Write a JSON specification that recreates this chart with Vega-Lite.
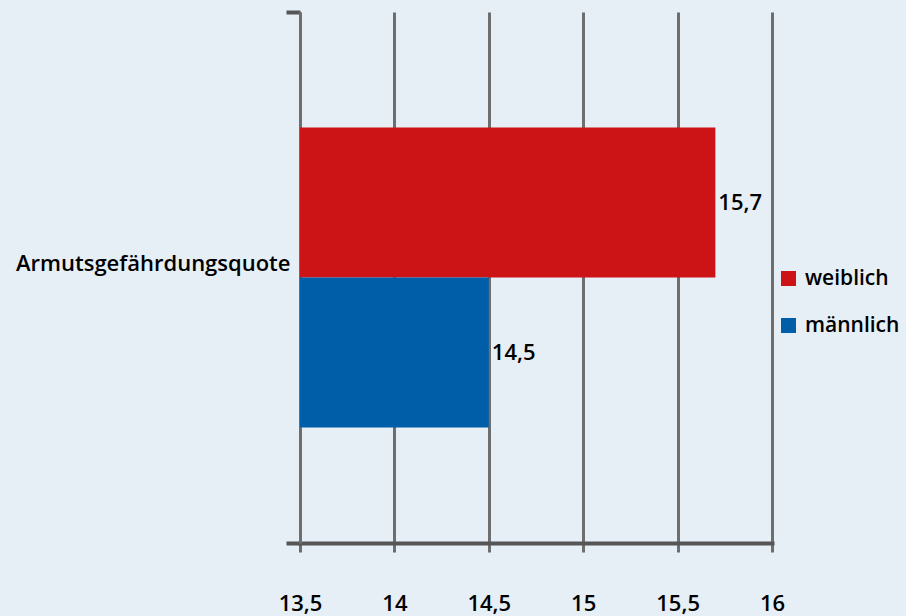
{
  "$schema": "https://vega.github.io/schema/vega-lite/v6.json",
  "width": 472,
  "height": 531,
  "autosize": {"type": "none"},
  "padding": {"left": 300, "top": 12, "right": 134, "bottom": 73},
  "background": "#e6eef6",
  "config": {
    "view": {"stroke": null},
    "font": "Open Sans"
  },
  "data": {
    "values": [
      {"kategorie": "Armutsgefährdungsquote", "geschlecht": "weiblich", "wert": 15.7},
      {"kategorie": "Armutsgefährdungsquote", "geschlecht": "männlich", "wert": 14.5}
    ]
  },
  "encoding": {
    "y": {
      "field": "kategorie",
      "type": "nominal",
      "title": null,
      "scale": {"paddingInner": 0, "paddingOuter": 0},
      "axis": {
        "tickBand": "extent",
        "ticks": true,
        "tickSize": 14,
        "tickColor": "#555555",
        "tickWidth": 4,
        "domainColor": "#6e6e6e",
        "domainWidth": 3,
        "labelFont": "Open Sans",
        "labelFontSize": 22,
        "labelFontWeight": 600,
        "labelColor": "#000000",
        "labelPadding": -4,
        "labelOffset": -14,
        "labelLimit": 400
      }
    },
    "yOffset": {
      "field": "geschlecht",
      "type": "nominal",
      "scale": {"domain": ["weiblich", "männlich"], "paddingInner": 0, "paddingOuter": 0.77}
    },
    "x": {
      "field": "wert",
      "type": "quantitative",
      "title": null,
      "scale": {"domain": [13.5, 16], "nice": false, "zero": false, "clamp": true},
      "axis": {
        "values": [13.5, 14, 14.5, 15, 15.5, 16],
        "labelExpr": "replace(format(datum.value, '.1~f'), '.', ',')",
        "grid": true,
        "gridColor": "#6e6e6e",
        "gridWidth": 3,
        "gridOpacity": 1,
        "domainColor": "#555555",
        "domainWidth": 4,
        "domainCap": "square",
        "tickColor": "#6e6e6e",
        "tickWidth": 3,
        "tickSize": 9,
        "labelFont": "Open Sans",
        "labelFontSize": 22,
        "labelFontWeight": 600,
        "labelColor": "#000000",
        "labelPadding": 41,
        "labelFlush": false
      }
    }
  },
  "layer": [
    {
      "mark": {"type": "bar"},
      "encoding": {
        "color": {
          "field": "geschlecht",
          "type": "nominal",
          "title": null,
          "scale": {"domain": ["weiblich", "männlich"], "range": ["#cc1417", "#005ea8"]},
          "legend": {
            "orient": "none",
            "legendX": 478,
            "legendY": 256,
            "padding": 0,
            "symbolType": "square",
            "symbolSize": 225,
            "symbolStrokeWidth": 0,
            "symbolOpacity": 1,
            "labelFont": "Open Sans",
            "labelFontSize": 21,
            "labelFontWeight": 600,
            "labelColor": "#000000",
            "labelOffset": 6,
            "rowPadding": 25
          }
        }
      }
    },
    {
      "mark": {
        "type": "text",
        "align": "left",
        "baseline": "middle",
        "dx": 3,
        "font": "Open Sans",
        "fontSize": 22,
        "fontWeight": 600,
        "color": "#000000",
        "text": {"expr": "replace(format(datum.wert, '.1f'), '.', ',')"}
      },
      "encoding": {}
    }
  ]
}
